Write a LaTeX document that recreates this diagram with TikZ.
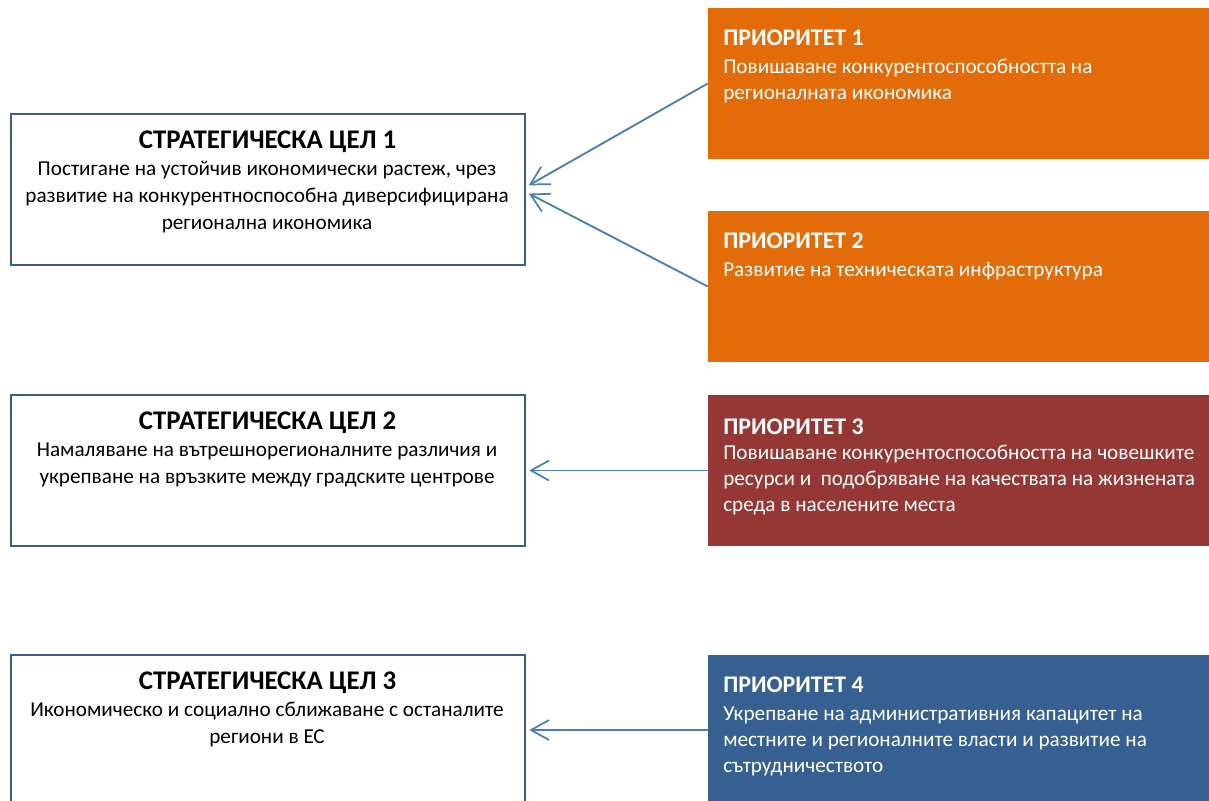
\documentclass[tikz,border=0pt]{standalone}
\usepackage{fontspec}
\setmainfont{Carlito}
\usetikzlibrary{arrows.meta,fit}
\definecolor{orng}{HTML}{E36C09}
\definecolor{rd}{HTML}{953735}
\definecolor{bl}{HTML}{376092}
\definecolor{brd}{HTML}{385D8A}
\definecolor{arr}{HTML}{4A7EBB}
\begin{document}
\begin{tikzpicture}[x=0.75pt,y=-0.75pt,
  goalbox/.style={draw=brd,line width=1.4pt,fill=white,inner sep=0pt},
  prbox/.style={inner sep=0pt},
  gtitle/.style={anchor=base,inner sep=0pt,font=\fontsize{20.2}{23}\selectfont\bfseries},
  gbody/.style={anchor=base,inner sep=0pt,align=center,font=\fontsize{15.9}{20.25}\selectfont},
  ptitle/.style={anchor=base west,inner sep=0pt,text=white,font=\fontsize{17.9}{21}\selectfont\bfseries},
  pbody/.style={anchor=base west,inner sep=0pt,align=left,text=white,font=\fontsize{15.9}{19.5}\selectfont},
  conn/.style={draw=arr,line width=1.4pt,-{Straight Barb[length=13.5pt,width=15pt,line width=1.3pt]},shorten >=2.5pt}]
\useasboundingbox (0,0) rectangle (1209,800);
\clip (0,0) rectangle (1209,800);
% goal boxes
\node[goalbox,fit={(11,114)(525,265)}] (g1) {};
\node[goalbox,fit={(11,395)(525,546)}] (g2) {};
\node[goalbox,fit={(11,655)(525,805)}] (g3) {};
% priority boxes
\node[prbox,fill=orng,fit={(708,8)(1209,159)}] (p1) {};
\node[prbox,fill=orng,fit={(708,211)(1209,362)}] (p2) {};
\node[prbox,fill=rd,fit={(708,395)(1209,546)}] (p3) {};
\node[prbox,fill=bl,fit={(708,655)(1209,805)}] (p4) {};
% goal texts (multi-line nodes: base = last line)
\node[gtitle] (g1t) at (267.5,148) {СТРАТЕГИЧЕСКА ЦЕЛ 1};
\node[gbody] (g1b) at (267,229) {Постигане на устойчив икономически растеж, чрез\\развитие на конкурентноспособна диверсифицирана\\регионална икономика};
\node[gtitle] (g2t) at (267.5,429) {СТРАТЕГИЧЕСКА ЦЕЛ 2};
\node[gbody] (g2b) at (267,483) {Намаляване на вътрешнорегионалните различия и\\укрепване на връзките между градските центрове};
\node[gtitle] (g3t) at (267.5,689) {СТРАТЕГИЧЕСКА ЦЕЛ 3};
\node[gbody] (g3b) at (267,743) {Икономическо и социално сближаване с останалите\\региони в ЕС};
% priority texts
\node[ptitle] (p1t) at (723,45) {ПРИОРИТЕТ 1};
\node[pbody] (p1b) at (723,99) {Повишаване конкурентоспособността на\\регионалната икономика};
\node[ptitle] (p2t) at (723,248) {ПРИОРИТЕТ 2};
\node[pbody] (p2b) at (723,276) {Развитие на техническата инфраструктура};
\node[ptitle] (p3t) at (723,434) {ПРИОРИТЕТ 3};
\node[pbody] (p3b) at (723,511) {Повишаване конкурентоспособността на човешките\\ресурси и\ \ подобряване на качествата на жизнената\\среда в населените места};
\node[ptitle] (p4t) at (723,692) {ПРИОРИТЕТ 4};
\node[pbody] (p4b) at (723,772) {Укрепване на административния капацитет на\\местните и регионалните власти и развитие на\\сътрудничеството};
% connectors
\draw[conn] (p1.west) -- ([yshift=1.9pt]g1.east);
\draw[conn] (p2.west) -- ([yshift=-1.9pt]g1.east);
\draw[conn] (p3.west) -- (g2.east);
\draw[conn] (p4.west) -- (g3.east);
\end{tikzpicture}
\end{document}
